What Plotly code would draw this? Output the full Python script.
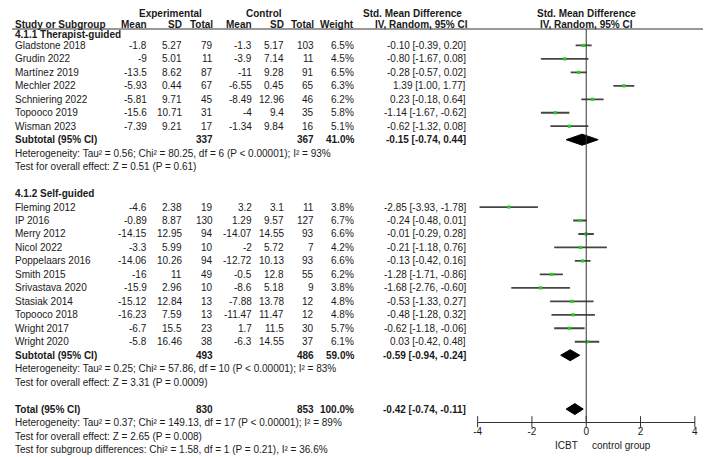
import plotly.graph_objects as go

# 4.1.1 therapist-guided
studies_tg = ["Gladstone 2018", "Grudin 2022", "Martínez 2019", "Mechler 2022",
              "Schniering 2022", "Topooco 2019", "Wisman 2023"]
exp_mean_tg = [-1.8, -9, -13.5, -5.93, -5.81, -15.6, -7.39]
exp_sd_tg = [5.27, 5.01, 8.62, 0.44, 9.71, 10.71, 9.21]
exp_n_tg = [79, 11, 87, 67, 45, 31, 17]
ctl_mean_tg = [-1.3, -3.9, -11, -6.55, -8.49, -4, -1.34]
ctl_sd_tg = [5.17, 7.14, 9.28, 0.45, 12.96, 9.4, 9.84]
ctl_n_tg = [103, 11, 91, 65, 46, 35, 16]
weight_tg = [6.5, 4.5, 6.5, 6.3, 6.2, 5.8, 5.1]
smd_tg = [-0.10, -0.80, -0.28, 1.39, 0.23, -1.14, -0.62]
lo_tg = [-0.39, -1.67, -0.57, 1.00, -0.18, -1.67, -1.32]
hi_tg = [0.20, 0.08, 0.02, 1.77, 0.64, -0.62, 0.08]

# 4.1.2 self-guided
studies_sg = ["Fleming 2012", "IP 2016", "Merry 2012", "Nicol 2022", "Poppelaars 2016",
              "Smith 2015", "Srivastava 2020", "Stasiak 2014", "Topooco 2018",
              "Wright 2017", "Wright 2020"]
exp_mean_sg = [-4.6, -0.89, -14.15, -3.3, -14.06, -16, -15.9, -15.12, -16.23, -6.7, -5.8]
exp_sd_sg = [2.38, 8.87, 12.95, 5.99, 10.26, 11, 2.96, 12.84, 7.59, 15.5, 16.46]
exp_n_sg = [19, 130, 94, 10, 94, 49, 10, 13, 13, 23, 38]
ctl_mean_sg = [3.2, 1.29, -14.07, -2, -12.72, -0.5, -8.6, -7.88, -11.47, 1.7, -6.3]
ctl_sd_sg = [3.1, 9.57, 14.55, 5.72, 10.13, 12.8, 5.18, 13.78, 11.47, 11.5, 14.55]
ctl_n_sg = [11, 127, 93, 7, 93, 55, 9, 12, 12, 30, 37]
weight_sg = [3.8, 6.7, 6.6, 4.2, 6.6, 6.2, 3.8, 4.8, 4.8, 5.7, 6.1]
smd_sg = [-2.85, -0.24, -0.01, -0.21, -0.13, -1.28, -1.68, -0.53, -0.48, -0.62, 0.03]
lo_sg = [-3.93, -0.48, -0.29, -1.18, -0.42, -1.71, -2.76, -1.33, -1.28, -1.18, -0.42]
hi_sg = [-1.78, 0.01, 0.28, 0.76, 0.16, -0.86, -0.60, 0.27, 0.32, -0.06, 0.48]

# pooled results
pooled_labels = ["Subtotal (95% CI)", "Subtotal (95% CI)", "Total (95% CI)"]
pooled_exp_n = [337, 493, 830]
pooled_ctl_n = [367, 486, 853]
pooled_weight = [41.0, 59.0, 100.0]
pooled_smd = [-0.15, -0.59, -0.42]
pooled_lo = [-0.74, -0.94, -0.74]
pooled_hi = [0.44, -0.24, -0.11]

het_tg = ["Heterogeneity: Tau² = 0.56; Chi² = 80.25, df = 6 (P < 0.00001); I² = 93%",
          "Test for overall effect: Z = 0.51 (P = 0.61)"]
het_sg = ["Heterogeneity: Tau² = 0.25; Chi² = 57.86, df = 10 (P < 0.00001); I² = 83%",
          "Test for overall effect: Z = 3.31 (P = 0.0009)"]
het_all = ["Heterogeneity: Tau² = 0.37; Chi² = 149.13, df = 17 (P < 0.00001); I² = 89%",
           "Test for overall effect: Z = 2.65 (P = 0.008)",
           "Test for subgroup differences: Chi² = 1.58, df = 1 (P = 0.21), I² = 36.6%"]

tick_vals = [-4, -2, 0, 2, 4]
tick_text = ["-4", "-2", "0", "2", "4"]

# row numbers (one row = one line of the table)
rows_tg = list(range(0, 7))
rows_sg = list(range(12, 23))
pooled_rows = [7, 23, 27]
AXIS_ROW = 27.94
H1, H2, LINE_ROW, G1_ROW = -2.346, -1.544, -1.218, -0.80

# page body has an 8px margin, so the figure is drawn 8px smaller and shifted
OFF = 8
W, H = 711 - OFF, 457 - OFF
ROW0_PX, ROW_PX = 45.4 - OFF, 13.47
FONT = "Liberation Sans, Arial, sans-serif"
TXT = "#1a1a1a"

fig = go.Figure()

rows_all = rows_tg + rows_sg
smd_all = smd_tg + smd_sg
lo_all = lo_tg + lo_sg
hi_all = hi_tg + hi_sg

ci_x, ci_y = [], []
for lo, hi, r in zip(lo_all, hi_all, rows_all):
    ci_x += [lo, hi, None]
    ci_y += [r, r, None]
fig.add_trace(go.Scatter(x=ci_x, y=ci_y, mode="lines", line=dict(color="#454545", width=1.8),
                         hoverinfo="skip", cliponaxis=False))
fig.add_trace(go.Scatter(x=smd_all, y=rows_all, mode="markers",
                         marker=dict(symbol="square", size=3.2, color="#1ed41e", line_width=0),
                         hoverinfo="skip", cliponaxis=False))

for est, lo, hi, r in zip(pooled_smd, pooled_lo, pooled_hi, pooled_rows):
    fig.add_trace(go.Scatter(x=[lo, est, hi, est, lo], y=[r, r - 0.41, r, r + 0.41, r],
                             mode="lines", fill="toself", fillcolor="black",
                             line=dict(color="black", width=1), hoverinfo="skip"))

# ticks crossing the axis line
fig.add_trace(go.Scatter(x=tick_vals, y=[AXIS_ROW] * len(tick_vals), mode="markers",
                         marker=dict(symbol="line-ns", size=8, line=dict(color="#333", width=1)),
                         hoverinfo="skip", cliponaxis=False))

annotations = []


def row_y(r):
    return 1 - (ROW0_PX + r * ROW_PX) / H


def txt(x, r, s, anchor="right", bold=False, xref="paper"):
    if bold:
        s = "<b>" + s + "</b>"
    if xref == "paper":
        x = (x - OFF) / W
    annotations.append(dict(x=x, y=row_y(r), xref=xref, yref="paper", text=s, showarrow=False,
                            xanchor=anchor, yanchor="middle", borderpad=0, borderwidth=0,
                            font=dict(family=FONT, size=10, color=TXT)))


def fmt(v):
    return f"{v:g}"


# column right edges in reference pixels
X_NAME, X_EM, X_ES, X_EN, X_CM, X_CS, X_CN, X_W, X_CI = 11, 144, 180, 211, 250, 283, 313, 353, 467

# header
txt(168, H1, "Experimental", "center", True)
txt(263, H1, "Control", "center", True)
txt(413, H1, "Std. Mean Difference", "center", True)
txt(0, H1, "Std. Mean Difference", "center", True, xref="x")
txt(X_NAME, H2, "Study or Subgroup", "left", True)
for x, s in zip([X_EM, X_ES, X_EN, X_CM, X_CS, X_CN, X_W],
                ["Mean", "SD", "Total", "Mean", "SD", "Total", "Weight"]):
    txt(x, H2, s, "right", True)
txt(422, H2, "IV, Random, 95% CI", "center", True)
txt(0, H2, "IV, Random, 95% CI", "center", True, xref="x")

txt(X_NAME, G1_ROW, "4.1.1 Therapist-guided", "left", True)
txt(X_NAME, 11, "4.1.2 Self-guided", "left", True)

groups = [
    (rows_tg, studies_tg, exp_mean_tg, exp_sd_tg, exp_n_tg, ctl_mean_tg, ctl_sd_tg, ctl_n_tg,
     weight_tg, smd_tg, lo_tg, hi_tg),
    (rows_sg, studies_sg, exp_mean_sg, exp_sd_sg, exp_n_sg, ctl_mean_sg, ctl_sd_sg, ctl_n_sg,
     weight_sg, smd_sg, lo_sg, hi_sg),
]
for g in groups:
    for r, name, em, es, en, cm, cs, cn, w, m, lo, hi in zip(*g):
        txt(X_NAME, r, name, "left")
        txt(X_EM, r, fmt(em))
        txt(X_ES, r, fmt(es))
        txt(X_EN, r, str(en))
        txt(X_CM, r, fmt(cm))
        txt(X_CS, r, fmt(cs))
        txt(X_CN, r, str(cn))
        txt(X_W, r, f"{w:.1f}%")
        txt(X_CI, r, f"{m:.2f} [{lo:.2f}, {hi:.2f}]")

for lab, en, cn, w, m, lo, hi, r in zip(pooled_labels, pooled_exp_n, pooled_ctl_n, pooled_weight,
                                        pooled_smd, pooled_lo, pooled_hi, pooled_rows):
    txt(X_NAME, r, lab, "left", True)
    txt(X_EN, r, str(en), "right", True)
    txt(X_CN, r, str(cn), "right", True)
    txt(X_W, r, f"{w:.1f}%", "right", True)
    txt(X_CI, r, f"{m:.2f} [{lo:.2f}, {hi:.2f}]", "right", True)

for start, lines in [(8, het_tg), (24, het_sg), (28, het_all)]:
    for k, s in enumerate(lines):
        txt(X_NAME, start + k, s, "left")

txt(-0.3, 29.72, "ICBT", "right", xref="x")
txt(0.2, 29.72, "control group", "left", xref="x")

y_top = -ROW0_PX / ROW_PX
axis_px = ROW0_PX + AXIS_ROW * ROW_PX

fig.update_layout(
    width=W, height=H,
    margin=dict(l=0, r=0, t=0, b=0),
    paper_bgcolor="white", plot_bgcolor="white",
    showlegend=False,
    annotations=annotations,
    xaxis=dict(domain=[(478.3 - OFF) / W, (697.7 - OFF) / W], range=[-4, 4], anchor="y",
               tickvals=tick_vals, ticktext=tick_text, ticks="",
               showline=True, linecolor="#333", linewidth=1,
               showgrid=False, zeroline=False, fixedrange=True,
               tickfont=dict(family=FONT, size=10, color=TXT)),
    yaxis=dict(domain=[1 - axis_px / H, 1], range=[AXIS_ROW, y_top], visible=False,
               fixedrange=True),
    shapes=[
        dict(type="line", xref="x", yref="y", x0=0, x1=0, y0=LINE_ROW, y1=AXIS_ROW,
             line=dict(color="#333", width=1)),
        dict(type="line", xref="paper", yref="y", x0=0, x1=1, y0=LINE_ROW, y1=LINE_ROW,
             line=dict(color="#333", width=1.2)),
    ],
)

fig.write_html("out.html")
